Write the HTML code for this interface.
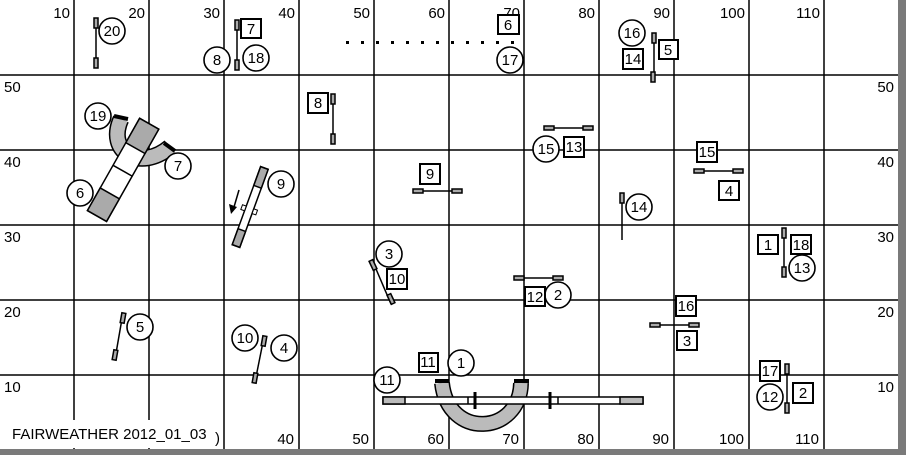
<!DOCTYPE html>
<html><head><meta charset="utf-8"><style>
html,body{margin:0;padding:0;background:#fff}
svg{display:block}
text{font-family:"Liberation Sans",sans-serif;font-size:15px;fill:#000}
</style></head><body>
<svg width="906" height="455" viewBox="0 0 906 455" xmlns="http://www.w3.org/2000/svg">
<rect width="906" height="455" fill="#fff"/>
<g stroke="#000" stroke-width="1.5">
<line x1="74" y1="0" x2="74" y2="449"/><line x1="149" y1="0" x2="149" y2="449"/><line x1="224" y1="0" x2="224" y2="449"/>
<line x1="299" y1="0" x2="299" y2="449"/><line x1="374" y1="0" x2="374" y2="449"/><line x1="449" y1="0" x2="449" y2="449"/>
<line x1="524" y1="0" x2="524" y2="449"/><line x1="599" y1="0" x2="599" y2="449"/><line x1="674" y1="0" x2="674" y2="449"/>
<line x1="749" y1="0" x2="749" y2="449"/><line x1="824" y1="0" x2="824" y2="449"/>
<line x1="0" y1="75" x2="898" y2="75"/><line x1="0" y1="150" x2="898" y2="150"/><line x1="0" y1="225" x2="898" y2="225"/>
<line x1="0" y1="300" x2="898" y2="300"/><line x1="0" y1="375" x2="898" y2="375"/>
</g>
<rect x="898" y="0" width="8" height="455" fill="#7a7a7a"/>
<rect x="0" y="449" width="906" height="6" fill="#7a7a7a"/>
<g text-anchor="end">
<text x="70" y="18">10</text><text x="145" y="18">20</text><text x="220" y="18">30</text><text x="295" y="18">40</text>
<text x="370" y="18">50</text><text x="445" y="18">60</text><text x="520" y="18">70</text><text x="595" y="18">80</text>
<text x="670" y="18">90</text><text x="745" y="18">100</text><text x="820" y="18">110</text>
<text x="294" y="444">40</text><text x="369" y="444">50</text><text x="444" y="444">60</text><text x="519" y="444">70</text>
<text x="594" y="444">80</text><text x="669" y="444">90</text><text x="744" y="444">100</text><text x="819" y="444">110</text>
<text x="894" y="92">50</text><text x="894" y="167">40</text><text x="894" y="242">30</text><text x="894" y="317">20</text><text x="894" y="392">10</text>
</g>
<text x="4" y="92">50</text><text x="4" y="167">40</text><text x="4" y="242">30</text><text x="4" y="317">20</text><text x="4" y="392">10</text>
<rect x="8" y="420" width="205" height="28" fill="#fff"/>
<text x="12" y="439" font-size="14">FAIRWEATHER 2012_01_03</text>
<text x="215" y="443" font-size="11">)</text>

<g stroke="#000" stroke-width="1.5" fill="#aaa">
<line x1="96" y1="20" x2="96" y2="66"/><rect x="94" y="18" width="4" height="10"/><rect x="94" y="58" width="4" height="10"/>
<line x1="237" y1="22" x2="237" y2="68"/><rect x="235" y="20" width="4" height="10"/><rect x="235" y="60" width="4" height="10"/>
<line x1="333" y1="95" x2="333" y2="141"/><rect x="331" y="94" width="4" height="10"/><rect x="331" y="134" width="4" height="10"/>
<line x1="544" y1="128" x2="592" y2="128"/><rect x="544" y="126" width="10" height="4"/><rect x="583" y="126" width="10" height="4"/>
<line x1="413" y1="191" x2="462" y2="191"/><rect x="413" y="189" width="10" height="4"/><rect x="452" y="189" width="10" height="4"/>
<line x1="654" y1="35" x2="654" y2="80"/><rect x="652" y="33" width="4" height="10"/><rect x="651" y="72" width="4" height="10"/>
<line x1="694" y1="171" x2="743" y2="171"/><rect x="694" y="169" width="10" height="4"/><rect x="733" y="169" width="10" height="4"/>
<line x1="622" y1="194" x2="622" y2="240"/><rect x="620" y="193" width="4" height="10"/>
<line x1="784" y1="230" x2="784" y2="275"/><rect x="782" y="228" width="4" height="10"/><rect x="782" y="267" width="4" height="10"/>
<line x1="650" y1="325" x2="698" y2="325"/><rect x="650" y="323" width="10" height="4"/><rect x="689" y="323" width="10" height="4"/>
<line x1="787" y1="366" x2="787" y2="410"/><rect x="785" y="364" width="4" height="10"/><rect x="785" y="403" width="4" height="10"/>
<line x1="514" y1="278" x2="563" y2="278"/><rect x="514" y="276" width="10" height="4"/><rect x="553" y="276" width="10" height="4"/>
<line x1="123" y1="313" x2="115" y2="359"/><rect x="121" y="313" width="4" height="10" transform="rotate(10 123 318)"/><rect x="113" y="350" width="4" height="10" transform="rotate(10 115 355)"/>
<line x1="264" y1="337" x2="255" y2="382"/><rect x="262" y="336" width="4" height="10" transform="rotate(10 264 341)"/><rect x="253" y="373" width="4" height="10" transform="rotate(10 255 378)"/>
<line x1="373" y1="262" x2="391" y2="304"/><rect x="371" y="260" width="4" height="10" transform="rotate(-25 373 265)"/><rect x="389" y="294" width="4" height="10" transform="rotate(-25 391 299)"/>
</g>
<g fill="#000">
<rect x="346" y="41" width="3" height="3"/><rect x="361" y="41" width="3" height="3"/><rect x="376" y="41" width="3" height="3"/><rect x="391" y="41" width="3" height="3"/>
<rect x="406" y="41" width="3" height="3"/><rect x="421" y="41" width="3" height="3"/><rect x="436" y="41" width="3" height="3"/><rect x="451" y="41" width="3" height="3"/>
<rect x="466" y="41" width="3" height="3"/><rect x="481" y="41" width="3" height="3"/><rect x="496" y="41" width="3" height="3"/><rect x="511" y="41" width="3" height="3"/>
</g>

<path d="M121 119 C106 152, 140 172, 170 147" fill="none" stroke="#000" stroke-width="17"/>
<path d="M121 119 C106 152, 140 172, 170 147" fill="none" stroke="#bbb" stroke-width="14"/>
<line x1="114" y1="116" x2="128" y2="119" stroke="#000" stroke-width="4"/>
<line x1="164" y1="143" x2="175" y2="151" stroke="#000" stroke-width="4"/>
<g transform="translate(97 216) rotate(-60.5)">
<rect x="0" y="-11" width="106" height="22" fill="#fff" stroke="#000" stroke-width="1.5"/>
<rect x="0" y="-11" width="26" height="22" fill="#aaa" stroke="#000" stroke-width="1.5"/>
<rect x="78" y="-11" width="28" height="22" fill="#aaa" stroke="#000" stroke-width="1.5"/>
<line x1="52" y1="-11" x2="52" y2="11" stroke="#000" stroke-width="1.5"/>
</g>
<g transform="translate(236 246) rotate(-70)">
<rect x="0" y="-4" width="83" height="8" fill="#fff" stroke="#000" stroke-width="1.5"/>
<rect x="0" y="-4" width="17" height="8" fill="#aaa" stroke="#000" stroke-width="1.5"/>
<rect x="63" y="-4" width="20" height="8" fill="#aaa" stroke="#000" stroke-width="1.5"/>
<rect x="36" y="-8" width="5" height="4" fill="#fff" stroke="#000"/>
<rect x="36" y="4" width="5" height="4" fill="#fff" stroke="#000"/>
</g>
<line x1="239" y1="190" x2="234" y2="207" stroke="#000" stroke-width="1.5"/>
<polygon points="229,204 237,207 231,214" fill="#000"/>

<path d="M442 383 C448 440, 520 435, 521 383" fill="none" stroke="#000" stroke-width="16"/>
<path d="M442 383 C448 440, 520 435, 521 383" fill="none" stroke="#bbb" stroke-width="13"/>
<line x1="435" y1="381" x2="449" y2="381" stroke="#000" stroke-width="4"/>
<line x1="514" y1="381" x2="529" y2="381" stroke="#000" stroke-width="4"/>
<rect x="383" y="397" width="260" height="7" fill="#fff" stroke="#000" stroke-width="1.5"/>
<rect x="383" y="397" width="22" height="7" fill="#bbb" stroke="#000" stroke-width="1.5"/>
<rect x="620" y="397" width="23" height="7" fill="#bbb" stroke="#000" stroke-width="1.5"/>
<line x1="468" y1="397" x2="468" y2="404" stroke="#000" stroke-width="1.5"/>
<line x1="558" y1="397" x2="558" y2="404" stroke="#000" stroke-width="1.5"/>
<line x1="475" y1="392" x2="475" y2="409" stroke="#000" stroke-width="3"/>
<line x1="550" y1="392" x2="550" y2="409" stroke="#000" stroke-width="3"/>

<g fill="#fff" stroke="#000" stroke-width="1.6">
<circle cx="112" cy="31" r="13"/><circle cx="217" cy="60" r="13"/><circle cx="256" cy="58" r="13"/><circle cx="510" cy="60" r="13"/>
<circle cx="546" cy="149" r="13"/><circle cx="632" cy="33" r="13"/><circle cx="639" cy="207" r="13"/><circle cx="802" cy="268" r="13"/>
<circle cx="770" cy="397" r="13"/><circle cx="140" cy="327" r="13"/><circle cx="245" cy="338" r="13"/><circle cx="284" cy="348" r="13"/>
<circle cx="389" cy="254" r="13"/><circle cx="558" cy="295" r="13"/><circle cx="461" cy="363" r="13"/><circle cx="387" cy="380" r="13"/>
<circle cx="98" cy="116" r="13"/><circle cx="178" cy="166" r="13"/><circle cx="80" cy="193" r="13"/><circle cx="281" cy="184" r="13"/>
</g>
<g fill="#fff" stroke="#000" stroke-width="2">
<rect x="241" y="19" width="20" height="19"/><rect x="498" y="15" width="21" height="19"/><rect x="308" y="93" width="20" height="20"/>
<rect x="564" y="137" width="20" height="20"/><rect x="420" y="164" width="20" height="20"/><rect x="623" y="49" width="20" height="20"/>
<rect x="659" y="40" width="19" height="19"/><rect x="697" y="142" width="20" height="20"/><rect x="719" y="181" width="20" height="19"/>
<rect x="758" y="235" width="20" height="19"/><rect x="791" y="235" width="20" height="19"/><rect x="676" y="296" width="20" height="20"/>
<rect x="677" y="331" width="20" height="19"/><rect x="760" y="361" width="20" height="20"/><rect x="793" y="383" width="20" height="20"/>
<rect x="525" y="287" width="20" height="19"/><rect x="387" y="269" width="20" height="20"/><rect x="419" y="353" width="19" height="19"/>
</g>
<g text-anchor="middle">
<text x="112" y="36">20</text><text x="217" y="65">8</text><text x="256" y="63">18</text><text x="510" y="65">17</text>
<text x="546" y="154">15</text><text x="632" y="38">16</text><text x="639" y="212">14</text><text x="802" y="273">13</text>
<text x="770" y="402">12</text><text x="140" y="332">5</text><text x="245" y="343">10</text><text x="284" y="353">4</text>
<text x="389" y="259">3</text><text x="558" y="300">2</text><text x="461" y="368">1</text><text x="387" y="385">11</text>
<text x="98" y="121">19</text><text x="178" y="171">7</text><text x="80" y="198">6</text><text x="281" y="189">9</text>
<text x="251" y="34">7</text><text x="508" y="30">6</text><text x="318" y="108">8</text>
<text x="574" y="152">13</text><text x="430" y="179">9</text><text x="633" y="64">14</text>
<text x="668" y="55">5</text><text x="707" y="157">15</text><text x="729" y="196">4</text>
<text x="768" y="250">1</text><text x="801" y="250">18</text><text x="686" y="311">16</text>
<text x="687" y="346">3</text><text x="770" y="376">17</text><text x="803" y="398">2</text>
<text x="535" y="302">12</text><text x="397" y="284">10</text><text x="428" y="367">11</text>
</g>
</svg>
</body></html>
